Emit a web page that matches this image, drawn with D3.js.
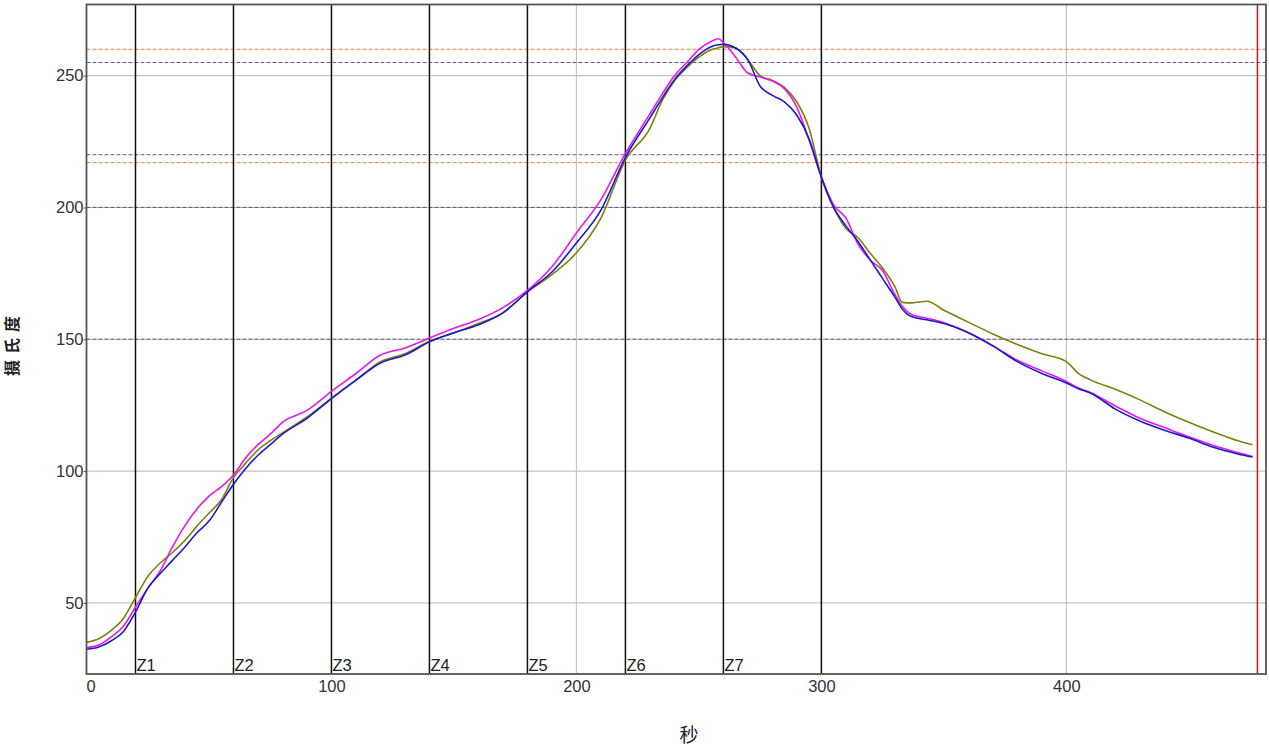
<!DOCTYPE html>
<html><head><meta charset="utf-8">
<script src="https://cdn.jsdelivr.net/npm/d3@7"></script>
<style>
html,body{margin:0;padding:0;background:#fff;}
svg{display:block;}
</style></head>
<body>
<script>
// ---- data ----
const times = [0,5,10,15,20,25,30,35,40,45,50,55,60,65,70,75,80,90,100,110,120,130,140,150,160,170,180,190,200,210,220,230,235,240,245,250,255,258,260,265,270,275,280,285,290,295,300,305,310,315,320,325,330,333,337,343,350,360,370,380,390,400,405,410,420,430,440,450,460,470,476];
const blueSeries = [32.4,33.2,35.5,39,46.5,55.5,61,66,71,76.5,81,88,95,101,106,110,114,120,127.5,134.5,141,144,149,152.5,155.5,160,168,175.5,186.5,199,219,234,241.5,248.5,253.6,258,261,261.7,261.9,260.5,256,246,242.5,240,235,226,211.5,200,193,187,180,173,166,161.5,158.5,157.4,156,152.5,147.5,141.5,137,133.4,131.2,129.5,123.5,119,115.5,112.5,109,106.5,105.3];
const magentaSeries = [33,34,37,41,48.4,55.5,62,71,79,85.5,90.5,94,98.5,105,110,114,118.5,123,130.2,137,144,146.7,150.5,154.2,157.5,162,168.5,177.5,190.3,203,220.5,235.5,243,250,254.9,260,263,264,262.5,257,251,249.5,248,245,238,225.5,211.5,201,196,186,180,176,167,162.5,159.3,158,156.3,152.5,147.5,142,138,134,131.5,129.7,124.7,120,116.5,113,109.7,107,105.5];
const oliveSeries = [35,36.4,39.5,44,52,60,65,69,73.5,79,84,89,97.5,103,108,111.5,114.5,120.5,127.7,134.5,141.5,144.5,149.2,152.4,156,160,168,174.5,182.8,196,218,230,240.5,248,253,257,259.8,260.6,261,260.5,256,250,248.2,245.5,240,230,211.5,200,192,188.5,182.5,177,170,164,163.8,164.4,161,156.5,152,148,144.5,141.5,137,134.5,131,127,122.5,118.5,114.8,111.5,110];
const zoneTimes = [20,60,100,140,180,220,260,300];
const zoneLabels = ["Z1","Z2","Z3","Z4","Z5","Z6","Z7",""];
const xTicks = [0,100,200,300,400];
const yTicks = [50,100,150,200,250];
const orangeLimits = [260,217];
const blueLimits = [255,220,200,150];
const endMarker = 478;

// ---- layout ----
const W = 1269, H = 751;
const L = 86.5, R = 1266, T = 4.5, B = 674;
const svg = d3.select("body").append("svg").attr("width", W).attr("height", H);
const x = d3.scaleLinear().domain([0, 481.5]).range([L, R]);
const y = d3.scaleLinear().domain([23, 277]).range([B, T]);

// grid
svg.append("g").selectAll("line").data(xTicks.filter(d=>d>0)).join("line")
  .attr("x1", d=>x(d)).attr("x2", d=>x(d)).attr("y1", T).attr("y2", B)
  .attr("stroke", "#c4c4c4").attr("stroke-width", 1.2);
svg.append("g").selectAll("line").data(yTicks).join("line")
  .attr("x1", L).attr("x2", R).attr("y1", d=>y(d)).attr("y2", d=>y(d))
  .attr("stroke", "#c4c4c4").attr("stroke-width", 1.2);

// limit lines
svg.append("g").selectAll("line").data(orangeLimits).join("line")
  .attr("x1", L).attr("x2", R).attr("y1", d=>y(d)).attr("y2", d=>y(d))
  .attr("stroke", "#d9834f").attr("stroke-width", 1).attr("stroke-dasharray", "4,2");
svg.append("g").selectAll("line").data(blueLimits).join("line")
  .attr("x1", L).attr("x2", R).attr("y1", d=>y(d)).attr("y2", d=>y(d))
  .attr("stroke", "#5c5c8c").attr("stroke-width", 1).attr("stroke-dasharray", "4,2");

// zone lines
svg.append("g").selectAll("line").data(zoneTimes).join("line")
  .attr("x1", d=>x(d)).attr("x2", d=>x(d)).attr("y1", T).attr("y2", B)
  .attr("stroke", "#111").attr("stroke-width", 1.5);
svg.append("g").selectAll("text").data(zoneTimes).join("text")
  .attr("x", d=>x(d)+1).attr("y", B-3)
  .attr("font-family", "Liberation Sans, Arial, sans-serif").attr("font-size", 16.5)
  .attr("fill", "#222").text((d,i)=>zoneLabels[i]);

// end marker
svg.append("line").attr("x1", x(endMarker)).attr("x2", x(endMarker)).attr("y1", T).attr("y2", B)
  .attr("stroke", "#c0171f").attr("stroke-width", 1.5);

// series
const line = d3.line().x((d,i)=>x(times[i])).y(d=>y(d)).curve(d3.curveMonotoneX);
[[oliveSeries,"#7f7f10"],[magentaSeries,"#e619e6"],[blueSeries,"#1a1acc"]].forEach(([s,c])=>{
  svg.append("path").datum(s).attr("d", line).attr("fill","none")
    .attr("stroke", c).attr("stroke-width", 1.6);
});

// frame
svg.append("rect").attr("x", L).attr("y", T).attr("width", R-L).attr("height", B-T)
  .attr("fill","none").attr("stroke","#555").attr("stroke-width",1.8);

// axes
const xAxis = svg.append("g").attr("transform", `translate(0,${B})`)
  .call(d3.axisBottom(x).tickValues(xTicks).tickSize(0).tickPadding(6).tickFormat(d3.format("d")));
xAxis.select(".domain").remove();
xAxis.selectAll("text").attr("font-family","Liberation Sans, Arial, sans-serif").attr("font-size",16.5).attr("fill","#333")
  .attr("dx", d => d === 0 ? 4 : 0);
const yAxis = svg.append("g").attr("transform", `translate(${L},0)`)
  .call(d3.axisLeft(y).tickValues(yTicks).tickSize(3).tickPadding(0).tickFormat(d3.format("d")));
yAxis.select(".domain").remove();
yAxis.selectAll("line").attr("stroke","#555");
yAxis.selectAll("text").attr("font-family","Liberation Sans, Arial, sans-serif").attr("font-size",16.5).attr("fill","#333");

// axis titles
svg.append("text").attr("transform", `translate(18,343) rotate(-90)`)
  .attr("text-anchor","middle").attr("font-family","Noto Sans CJK SC, sans-serif")
  .attr("font-size",16).attr("font-weight","bold").attr("letter-spacing","6px")
  .attr("fill","#222").text("摄氏度");
svg.append("text").attr("x", 689).attr("y", 742)
  .attr("text-anchor","middle").attr("font-family","Noto Sans CJK SC, sans-serif")
  .attr("font-size",19).attr("fill","#222").text("秒");
</script>
</body></html>
